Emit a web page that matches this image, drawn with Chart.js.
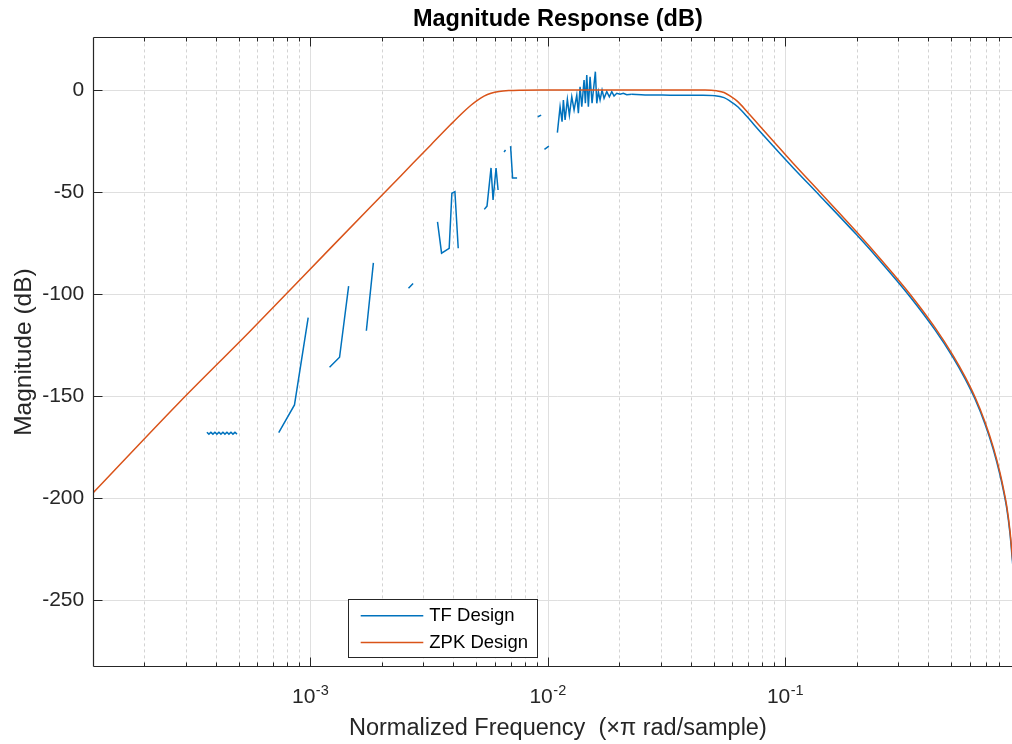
<!DOCTYPE html>
<html><head><meta charset="utf-8">
<script src="https://cdn.jsdelivr.net/npm/chart.js@4.4.1/dist/chart.umd.min.js"></script>
<style>html,body{margin:0;padding:0;overflow:hidden;background:#fff;width:1012px;height:744px}canvas{display:block}</style>
</head><body>
<canvas id="c" width="1023" height="744"></canvas>
<script>
const titleText = 'Magnitude Response (dB)';
const xLabel = 'Normalized Frequency  (\u00d7\u03c0 rad/sample)';
const yLabel = 'Magnitude (dB)';
const seriesNames = ['TF Design', 'ZPK Design'];
const seriesColors = ['#0072BD', '#D95319'];
const xRange = [1 / 8192, 1];
const yRange = [-282.7, 25.8];
const yTickValues = [-250, -200, -150, -100, -50, 0];
const xTickValues = [1e-3, 1e-2, 1e-1];
const xTickBase = '10';
const xTickExponents = ['-3', '-2', '-1'];

// ZPK design (orange)
const zpkFreq = [1.221e-4, 2.791e-4, 5.60e-4, 1.219e-3, 2.408e-3, 3.224e-3, 3.917e-3, 4.40e-3, 4.757e-3, 5.043e-3,
  5.40e-3, 5.78e-3, 6.245e-3, 6.883e-3, 7.73e-3, 9.40e-3, 0.01684, 0.03665, 0.04604, 0.05159,
  0.05536, 0.05866, 0.0634, 0.06898, 0.07844, 0.09228, 0.10837, 0.1404, 0.20036, 0.25119,
  0.33605, 0.42813, 0.51111, 0.57264, 0.63096, 0.69504, 0.75353, 0.80418, 0.83017, 0.85807,
  0.88586, 0.90321, 0.92087, 0.93887, 0.95743];
const zpkMag = [-197.4, -153.5, -118.1, -77.5, -42.1, -26.9, -16.8, -11.0, -7.45, -5.14,
  -3.01, -1.59, -0.69, -0.23, -0.06, 0, 0, 0, 0, -0.4,
  -1.2, -2.9, -5.8, -10.4, -17.8, -27.0, -36.0, -50.1, -69.6, -82.6,
  -100.1, -116.5, -130.3, -140.5, -150.5, -162.7, -175.2, -187.7, -195.1, -203.9,
  -216.2, -227.0, -238.2, -252.0, -269.6];

// TF design (blue); null marks a break in the plotted line
const tfFreq = [
  3.676e-4, 3.749e-4, 3.822e-4, 3.898e-4, 3.974e-4, 4.052e-4, 4.131e-4, 4.212e-4,
  4.295e-4, 4.379e-4, 4.465e-4, 4.552e-4, 4.642e-4, 4.731e-4, 4.826e-4, 4.921e-4, 5.0e-4,
  7.376e-4, 8.594e-4, 9.815e-4, 1.0e-3,
  1.2076e-3, 1.3307e-3, 1.4530e-3, 1.5e-3,
  1.7255e-3, 1.8471e-3, 1.9e-3,
  2.596e-3, 2.715e-3, 2.8e-3,
  3.440e-3, 3.578e-3, 3.852e-3, 3.954e-3, 4.072e-3, 4.205e-3, 4.3e-3,
  5.415e-3, 5.559e-3, 5.780e-3, 5.894e-3, 6.068e-3, 6.188e-3, 6.3e-3,
  6.557e-3, 6.653e-3, 6.8e-3,
  6.986e-3, 7.123e-3, 7.441e-3, 7.6e-3,
  9.099e-3, 9.397e-3, 9.5e-3,
  9.703e-3, 1.0127e-2, 1.05e-2,
  0.010998, 0.011290, 0.011511, 0.011657, 0.011851, 0.012118, 0.012355, 0.012646, 0.012931, 0.013274,
  0.013481, 0.013705, 0.013933, 0.014247, 0.014427, 0.014624, 0.014853, 0.015100, 0.015395, 0.015896,
  0.016113, 0.016364, 0.016637, 0.016963, 0.017295, 0.017753, 0.018206, 0.018634, 0.019055, 0.019559,
  0.020194, 0.020851, 0.021550, 0.022622, 0.025734, 0.032803, 0.043857, 0.050730, 0.05536, 0.05866,
  0.0634, 0.06898, 0.07844, 0.09228, 0.10837, 0.1404, 0.20036, 0.25119, 0.33605, 0.42813,
  0.51111, 0.57264, 0.63096, 0.69504, 0.75353, 0.80418, 0.83017, 0.85807, 0.88586, 0.90321,
  0.92087, 0.93887, 0.95743];
const tfMag = [
  -167.8, -168.7, -167.8, -168.7, -167.8, -168.7, -167.8, -168.7,
  -167.8, -168.7, -167.8, -168.7, -167.8, -168.7, -167.8, -168.7, null,
  -168.0, -154.4, -111.6, null,
  -135.9, -131.0, -96.1, null,
  -118.0, -84.7, null,
  -97.2, -94.8, null,
  -64.6, -80.0, -77.6, -50.6, -49.8, -77.6, null,
  -58.5, -56.9, -38.2, -53.9, -38.2, -49.0, null,
  -30.4, -29.4, null,
  -27.5, -43.1, -43.1, null,
  -13.1, -12.3, null,
  -29.1, -27.5, null,
  -20.9, -8.2, -15.5, -4.9, -14.7, -4.6, -12.3, -3.3, -9.8, -2.5,
  -11.4, 1.6, -8.2, 4.9, -6.5, 7.4, -8.2, 6.5, -6.5, 9.0,
  -6.5, -0.8, -4.9, 0.0, -4.1, -0.8, -3.3, -0.8, -2.9, -1.6,
  -2.1, -1.6, -2.3, -2.1, -2.4, -2.5, -2.6, -2.8, -3.7, -5.4,
  -8.3, -12.9, -20.3, -29.4, -38.2, -51.9, -71.0, -83.8, -101.3, -117.6,
  -131.3, -141.5, -151.5, -163.7, -176.2, -188.7, -196.1, -205.0, -217.5, -228.5,
  -240.0, -254.0, -272.0];
// where the TF response stops being erratic and becomes a smooth curve
const tfSmoothFrom = 0.022622;

const FONT = "'Liberation Sans', Arial, Helvetica, 'DejaVu Sans', sans-serif";
const AXIS_COLOR = '#262626';

const toPoints = (fs, ms) => fs.map((f, i) => ({ x: f, y: ms[i] }));
const tfPoints = toPoints(tfFreq, tfMag);

const matlabAxes = {
  id: 'matlabAxes',
  beforeDatasetsDraw(chart) {
    const { ctx, chartArea: a, scales: { x, y } } = chart;
    ctx.save();
    ctx.beginPath();
    ctx.rect(a.left, a.top, a.right - a.left, a.bottom - a.top);
    ctx.clip();
    const vline = (px) => { ctx.beginPath(); ctx.moveTo(px, a.top); ctx.lineTo(px, a.bottom); ctx.stroke(); };
    const hline = (py) => { ctx.beginPath(); ctx.moveTo(a.left, py); ctx.lineTo(a.right, py); ctx.stroke(); };
    ctx.lineWidth = 1;
    ctx.strokeStyle = '#d3d3d3';
    ctx.setLineDash([3, 3]);
    for (let e = -4; e <= 0; e++) {
      for (let k = 2; k <= 9; k++) {
        const v = k * Math.pow(10, e);
        if (v <= xRange[0] || v >= xRange[1]) continue;
        vline(Math.round(x.getPixelForValue(v)) + 0.5);
      }
    }
    ctx.setLineDash([]);
    ctx.strokeStyle = '#dfdfdf';
    xTickValues.forEach(v => vline(Math.round(x.getPixelForValue(v)) + 0.5));
    yTickValues.forEach(v => hline(Math.round(y.getPixelForValue(v)) + 0.5));
    ctx.restore();
  },
  afterDatasetsDraw(chart) {
    const { ctx, chartArea: a, scales: { x, y } } = chart;
    ctx.save();
    ctx.strokeStyle = AXIS_COLOR;
    ctx.lineWidth = 1.2;
    const top = Math.round(a.top) + 0.5, bottom = Math.round(a.bottom) - 0.5;
    const left = Math.round(a.left) + 0.5, right = Math.round(a.right) - 0.5;
    ctx.beginPath();
    ctx.moveTo(left, top); ctx.lineTo(right, top);
    ctx.moveTo(left, bottom); ctx.lineTo(right, bottom);
    ctx.moveTo(left, top); ctx.lineTo(left, bottom);
    ctx.moveTo(right, top); ctx.lineTo(right, bottom);
    ctx.stroke();
    ctx.lineWidth = 1;
    const xt = (v, len) => {
      const px = Math.round(x.getPixelForValue(v)) + 0.5;
      ctx.beginPath();
      ctx.moveTo(px, bottom); ctx.lineTo(px, bottom - len);
      ctx.moveTo(px, top); ctx.lineTo(px, top + len);
      ctx.stroke();
    };
    for (let e = -4; e <= 0; e++) {
      for (let k = 2; k <= 9; k++) {
        const v = k * Math.pow(10, e);
        if (v <= xRange[0] || v >= xRange[1]) continue;
        xt(v, 4);
      }
    }
    xTickValues.forEach(v => xt(v, 9));
    yTickValues.forEach(v => {
      const py = Math.round(y.getPixelForValue(v)) + 0.5;
      ctx.beginPath();
      ctx.moveTo(left, py); ctx.lineTo(left + 9, py);
      ctx.moveTo(right, py); ctx.lineTo(right - 9, py);
      ctx.stroke();
    });
    // x tick labels: 10 with a raised exponent
    ctx.fillStyle = AXIS_COLOR;
    ctx.textBaseline = 'alphabetic';
    ctx.textAlign = 'left';
    xTickValues.forEach((v, i) => {
      const px = x.getPixelForValue(v);
      ctx.font = '21px ' + FONT;
      const wb = ctx.measureText(xTickBase).width;
      ctx.font = '14.5px ' + FONT;
      const we = ctx.measureText(xTickExponents[i]).width;
      const sx = px - (wb + we) / 2;
      ctx.font = '21px ' + FONT;
      ctx.fillText(xTickBase, sx, a.bottom + 36.5);
      ctx.font = '14.5px ' + FONT;
      ctx.fillText(xTickExponents[i], sx + wb + 0.5, a.bottom + 28.3);
    });
    // legend
    const lx = a.left + 255.1, ly = a.bottom - 67.4, lw = 189, lh = 58.4;
    ctx.fillStyle = '#ffffff';
    ctx.fillRect(lx, ly, lw, lh);
    ctx.strokeStyle = AXIS_COLOR;
    ctx.lineWidth = 1;
    ctx.strokeRect(Math.round(lx) + 0.5, Math.round(ly) + 0.5, Math.round(lw), Math.round(lh));
    ctx.font = '18.5px ' + FONT;
    ctx.textBaseline = 'middle';
    ctx.textAlign = 'left';
    chart.data.datasets.filter(ds => !ds.legendHidden)
      .sort((p, q) => seriesNames.indexOf(p.label) - seriesNames.indexOf(q.label))
      .forEach((ds, i) => {
        const ry = ly + 16.5 + i * 26.7;
        ctx.strokeStyle = ds.borderColor;
        ctx.lineWidth = ds.borderWidth;
        ctx.beginPath();
        ctx.moveTo(lx + 12.4, ry); ctx.lineTo(lx + 75, ry);
        ctx.stroke();
        ctx.fillStyle = '#000000';
        ctx.fillText(ds.label, lx + 81, ry);
      });
    ctx.restore();
  }
};

new Chart(document.getElementById('c'), {
  type: 'line',
  data: {
    datasets: [
      { label: seriesNames[0], data: tfPoints.filter(p => p.x <= tfSmoothFrom), borderColor: seriesColors[0],
        borderWidth: 1.5, pointRadius: 0, tension: 0, spanGaps: false, order: 2 },
      { label: seriesNames[0], legendHidden: true, data: tfPoints.filter(p => p.x >= tfSmoothFrom), borderColor: seriesColors[0],
        borderWidth: 1.5, pointRadius: 0, cubicInterpolationMode: 'monotone', spanGaps: false, order: 1 },
      { label: seriesNames[1], data: toPoints(zpkFreq, zpkMag), borderColor: seriesColors[1], borderWidth: 1.5,
        pointRadius: 0, cubicInterpolationMode: 'monotone', spanGaps: false, order: 0 }
    ]
  },
  options: {
    responsive: false,
    animation: false,
    events: [],
    layout: { padding: { left: 0, top: 0, bottom: 0, right: 0.5 } },
    plugins: {
      legend: { display: false },
      tooltip: { enabled: false },
      title: {
        display: true, text: titleText, fullSize: false, color: '#000000',
        font: { family: FONT, size: 23.5, weight: 'bold' }, padding: { top: 5.2, bottom: 4.0 }
      }
    },
    scales: {
      x: {
        type: 'logarithmic', min: xRange[0], max: xRange[1],
        afterBuildTicks: s => { s.ticks = xTickValues.map(v => ({ value: v, major: true })); },
        afterFit: s => { s.height = 77.3; },
        grid: { display: false, drawTicks: false }, border: { display: false },
        ticks: { display: false, autoSkip: false, maxRotation: 0, minRotation: 0 },
        title: { display: true, text: xLabel, color: AXIS_COLOR, font: { family: FONT, size: 23.5 }, padding: { top: 0, bottom: 1.5 } }
      },
      y: {
        type: 'linear', min: yRange[0], max: yRange[1],
        afterBuildTicks: s => { s.ticks = yTickValues.map(v => ({ value: v })); },
        afterFit: s => { s.width = 93.2; },
        grid: { display: false, drawTicks: false }, border: { display: false },
        ticks: { padding: 9, color: AXIS_COLOR, font: { family: FONT, size: 21 }, callback: v => String(v) },
        title: { display: true, text: yLabel, color: AXIS_COLOR, font: { family: FONT, size: 24.5 }, padding: { top: 10, bottom: 0 } }
      }
    }
  },
  plugins: [matlabAxes]
});
</script>
</body></html>
